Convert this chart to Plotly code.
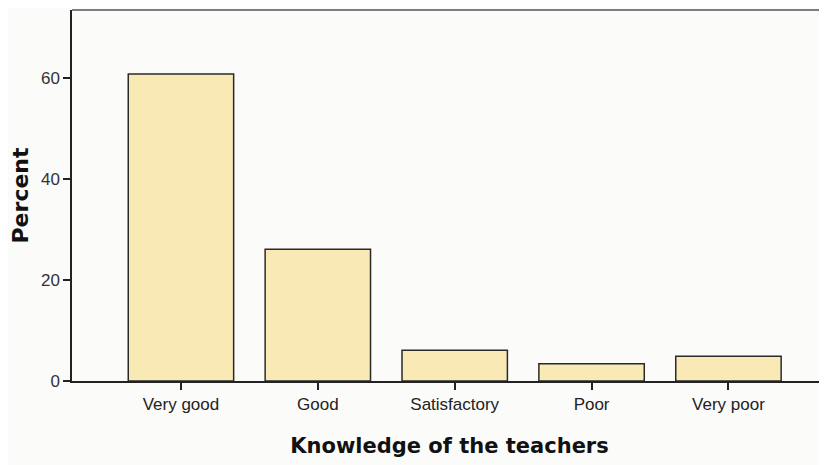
import plotly.graph_objects as go

categories = ["Very good", "Good", "Satisfactory", "Poor", "Very poor"]
percent = [60.8, 26.1, 6.1, 3.4, 4.9]
y_ticks = [0, 20, 40, 60]

fig = go.Figure()
fig.add_trace(go.Bar(
    x=categories, y=percent,
    marker=dict(color="#f9e9b5", line=dict(color="#2a2a2a", width=1.5)),
    width=0.77,
))

fig.update_layout(
    width=819, height=457,
    margin=dict(l=64, r=0, t=2, b=84),
    paper_bgcolor="#fbfbfa", plot_bgcolor="#fbfbfa",
    showlegend=False,
    font=dict(family="Liberation Sans, Arial, sans-serif", color="#222"),
    xaxis=dict(
        range=[-0.796, 4.72],
        showline=True, linecolor="#222", linewidth=1.5,
        ticks="outside", ticklen=7, tickcolor="#222", tickwidth=1.5,
        tickfont=dict(size=17, color="#222"),
        showgrid=False, zeroline=False,
        title=dict(text="<b>Knowledge of the teachers</b>", standoff=25,
                   font=dict(family="DejaVu Sans, sans-serif", size=21, color="#111")),
    ),
    yaxis=dict(
        range=[0, 73.5],
        tickvals=y_ticks,
        showline=True, linecolor="#222", linewidth=1.5,
        ticks="outside", ticklen=7, tickcolor="#222", tickwidth=1.5,
        tickfont=dict(size=17, color="#333"),
        showgrid=False, zeroline=False,
        title=dict(text="<b>Percent</b>", standoff=14,
                   font=dict(family="DejaVu Sans, sans-serif", size=22, color="#111")),
    ),
)
fig.add_shape(type="line", xref="paper", yref="paper", x0=0, x1=1, y0=1, y1=1,
              line=dict(color="#555", width=1.5))

fig.write_html("out.html")
